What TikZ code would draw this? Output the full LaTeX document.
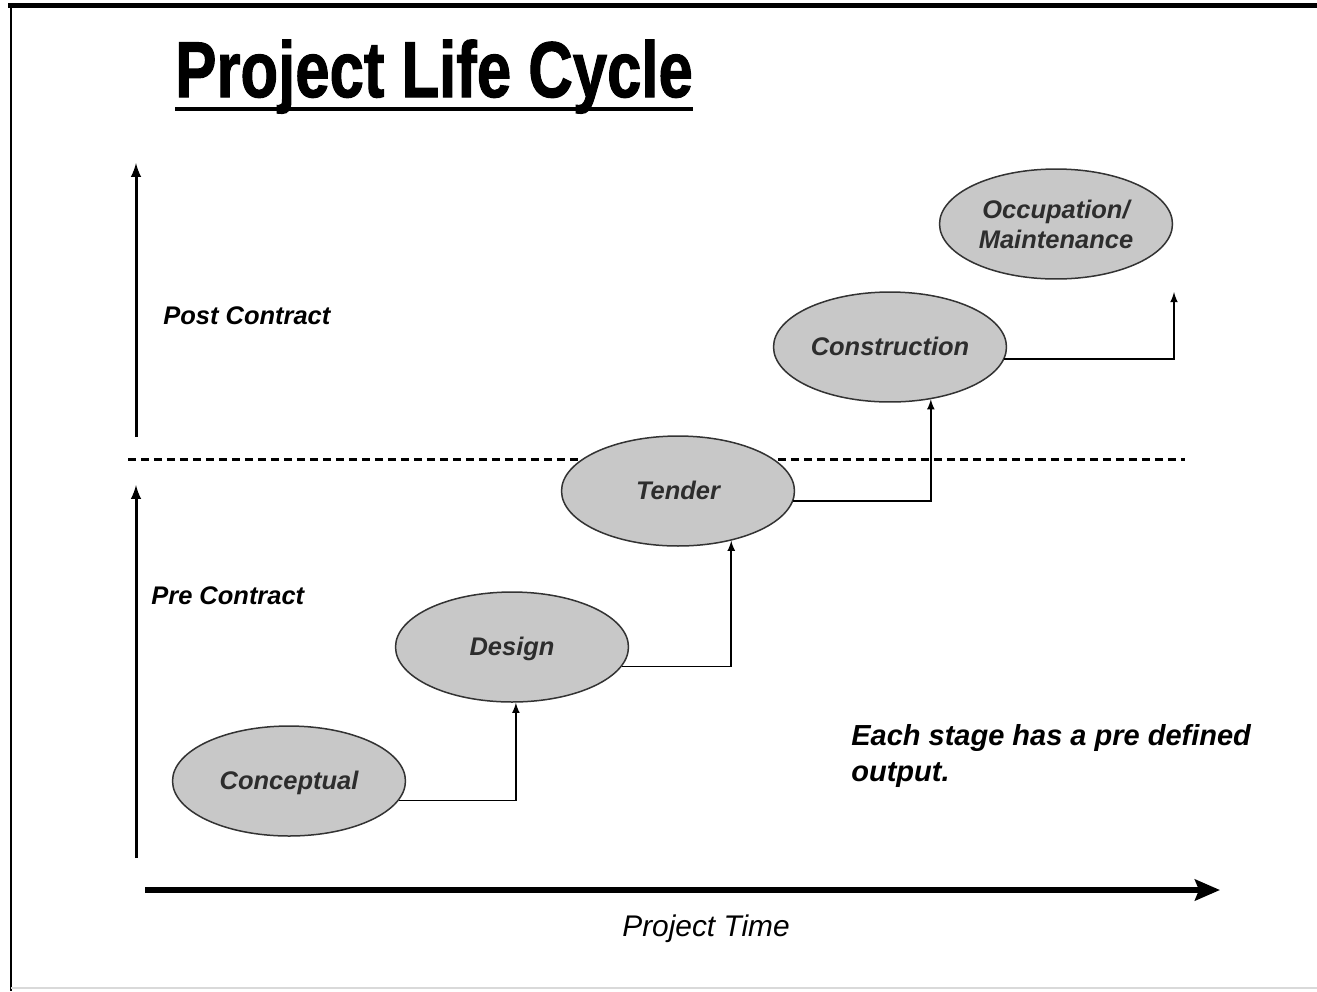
\documentclass[tikz,border=0pt]{standalone}
\usepackage{fontspec}
\setmainfont{Liberation Sans}
\newfontfamily\titlefont{Liberation Sans}[BoldFeatures={FakeBold=1.6}]
\usetikzlibrary{shapes.geometric,calc,arrows.meta}
\definecolor{stagefill}{RGB}{200,200,200}
\definecolor{stagetext}{RGB}{45,45,45}
\tikzset{
  stage/.style={ellipse,draw=black!80,line width=0.03cm,fill=stagefill,
    minimum width=4.66cm,minimum height=2.2cm,inner sep=0pt,text=stagetext,
    text height=1.2em,text depth=0.25em,
    font=\fontsize{14.5}{17}\selectfont\bfseries\itshape,align=center},
  flow/.style={->,>=latex,line width=0.035cm},
  side/.style={anchor=west,inner sep=0pt,font=\fontsize{14.5}{17}\selectfont\bfseries\itshape},
}

\begin{document}
\begin{tikzpicture}[x=0.02cm,y=-0.02cm]
        \useasboundingbox (0,0) rectangle (1317,991);
        % frame
        \draw[line width=0.1cm] (8,5) -- (1317,5);
        \draw[line width=0.06cm] (11,5) -- (11,991);
        \draw[black!15,line width=0.04cm] (11,988) -- (1317,988);
        % title
        \node[anchor=base west,inner sep=0pt] (title) at (175,97) {\scalebox{0.78}[1]{\fontsize{45}{48}\selectfont\titlefont\bfseries Project Life Cycle}};
        \draw[line width=0.08cm] ($(title.base west)+(0,12)$) -- ($(title.base east)+(0,12)$);
        % axes
        \draw[->,>=latex,line width=0.06cm] (136,437) -- (136,163);
        \draw[->,>=latex,line width=0.06cm] (136,858) -- (136,485);
        \draw[-{Stealth[length=0.5cm,width=0.42cm,inset=0.08cm]},line width=0.12cm] (145,890) -- (1220,890);
        \draw[dash pattern=on 0.16cm off 0.1cm,line width=0.06cm] (128,459) -- (1185,459);
        % stages
        \node[stage] (concept) at (289,781) {Conceptual};
        \node[stage] (design) at (512,647) {Design};
        \node[stage] (tender) at (678,491) {Tender};
        \node[stage] (constr) at (890,347) {Construction};
        \node[stage,text height=,text depth=] (occup) at (1056,224) {Occupation/\\Maintenance};
        \coordinate (occin) at (1174,292);
        \draw[flow] (concept.-10) -| (design.-86);
        \draw[flow] (design.-10) -| (tender.-43);
        \draw[flow] (tender.-5) -| (constr.-52);
        \draw[flow] (constr.-6) -| (occin);
        % labels
        \node[side] (post) at (163,316) {Post Contract};
        \node[side] (pre) at (151,596) {Pre Contract};
        \node[side,align=left,font=\fontsize{16.5}{20.5}\selectfont\bfseries\itshape] (note) at (851,756) {Each stage has a pre defined\\output.};
        \node[font=\fontsize{17}{20}\selectfont\itshape] (ptime) at (706,929) {Project Time};
\end{tikzpicture}
\end{document}
